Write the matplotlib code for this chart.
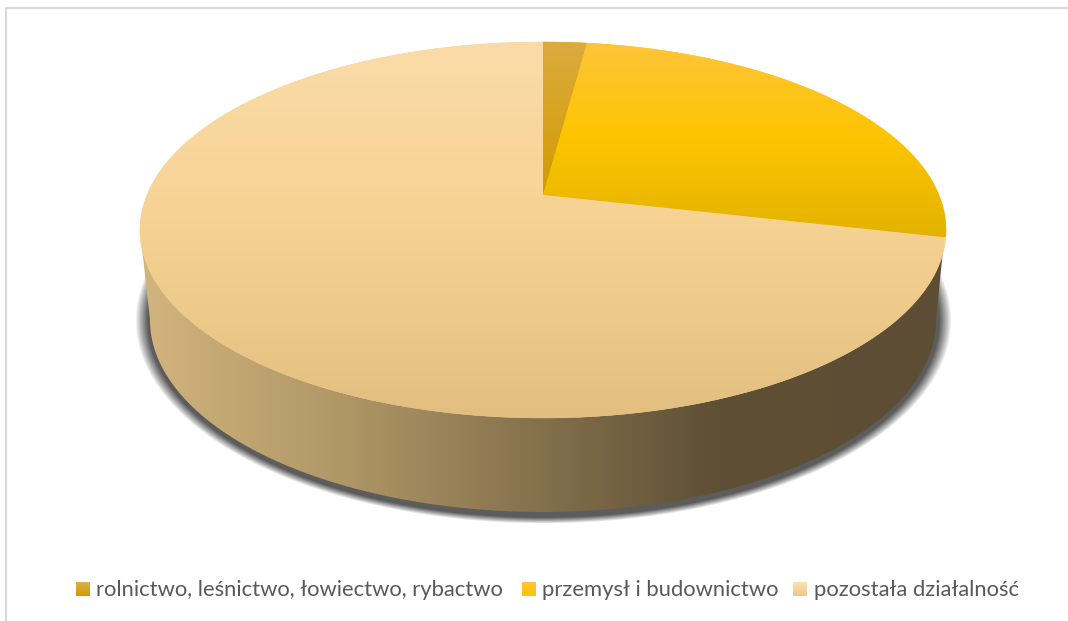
import numpy as np
import matplotlib
matplotlib.use("Agg")
import matplotlib.pyplot as plt
from matplotlib.colors import LinearSegmentedColormap
from matplotlib.patches import Polygon, Rectangle

# shares (percent)
categories = ["rolnictwo, leśnictwo, łowiectwo, rybactwo", "przemysł i budownictwo", "pozostała działalność"]
values = [2.1, 26.5, 71.4]

# gradients: (top colour, middle colour, bottom colour)
top_colors = [
    ["#dbab3f", "#d7a320", "#d29b00"],
    ["#fec53a", "#fdc400", "#e3b300"],
    ["#fbdca9", "#f6d292", "#e2bf80"],
]
side_stops = [(0.0, "#d2b47e"), (0.25, "#b09766"), (0.5, "#83704c"), (0.72, "#5e4f35"), (1.0, "#5c4d34")]

W, H = 1068, 621
fig = plt.figure(figsize=(W / 100, H / 100), dpi=100)
ax = fig.add_axes([0, 0, 1, 1])
ax.set_xlim(0, W)
ax.set_ylim(H, 0)
ax.axis("off")

# chart frame
ax.add_patch(Rectangle((6, 7.5), W + 10, H + 10, fc="white", ec="#d9d9d9", lw=1.5))

# perspective pie: unit circle pushed through a homography
cx, cy = 543, 195
A, B, k = 396, 181.5, 0.186


def project(theta):
    u, v = np.sin(theta), np.cos(theta)
    return cx + A * u / (1 + k * v), cy - B * v / (1 + k * v)


# shadow under the disc
yy, xx = np.mgrid[0:H, 0:W]
d = np.sqrt(((xx - 543) / 408.0) ** 2 + ((yy - 320) / 203.0) ** 2)
shadow = np.zeros((H, W, 4))
shadow[..., :3] = 0.25
shadow[..., 3] = np.clip((1 - d) / 0.03, 0, 1) ** 0.9 * 0.85
ax.imshow(shadow, extent=(0, W, H, 0), zorder=1, aspect="auto")

# side wall
t = np.linspace(0, np.pi, 200)
side_x = 543 - 393 * np.cos(t)
side_y = 320 + 192 * np.sin(t)
side_pts = np.column_stack([np.r_[140, side_x, 945], np.r_[230, side_y, 230]])
side_poly = Polygon(side_pts, closed=True, fc="none", ec="none", transform=ax.transData)
ax.add_patch(side_poly)
side_cmap = LinearSegmentedColormap.from_list("side", side_stops)
side_img = ax.imshow(np.linspace(0, 1, 512).reshape(1, -1), cmap=side_cmap, extent=(140, 945, 520, 225),
                     aspect="auto", zorder=2)
side_img.set_clip_path(side_poly)

# top face, clockwise from twelve o'clock
edges = np.cumsum([0] + values) / 100.0 * 2 * np.pi
for i, name in enumerate(categories):
    th = np.linspace(edges[i], edges[i + 1], 300)
    px, py = project(th)
    pts = np.column_stack([np.r_[cx, px], np.r_[cy, py]])
    poly = Polygon(pts, closed=True, fc=top_colors[i][1], ec=top_colors[i][1], lw=0.3, zorder=3)
    ax.add_patch(poly)
    cmap = LinearSegmentedColormap.from_list("c%d" % i, top_colors[i])
    y0, y1 = pts[:, 1].min(), pts[:, 1].max()
    img = ax.imshow(np.linspace(0, 1, 256).reshape(-1, 1), cmap=cmap, extent=(pts[:, 0].min(), pts[:, 0].max(), y1, y0),
                    aspect="auto", zorder=4)
    img.set_clip_path(poly)

# legend
swatch_x = [76, 522, 793]
text_x = [96, 542, 814]
swatch_colors = [["#dcaf4c", "#d29b00"], ["#fec53a", "#fdc400"], ["#fde0b0", "#eec88c"]]
for i, name in enumerate(categories):
    cmap = LinearSegmentedColormap.from_list("s%d" % i, swatch_colors[i])
    ax.imshow(np.linspace(0, 1, 32).reshape(-1, 1), cmap=cmap,
              extent=(swatch_x[i], swatch_x[i] + 14, 596, 582), aspect="auto", zorder=5)
    ax.text(text_x[i], 589.5, name, fontsize=15.85, family="Lato", color="#595959", va="center", ha="left", zorder=6)

ax.set_xlim(0, W)
ax.set_ylim(H, 0)
fig.savefig("out.png", dpi=100)
